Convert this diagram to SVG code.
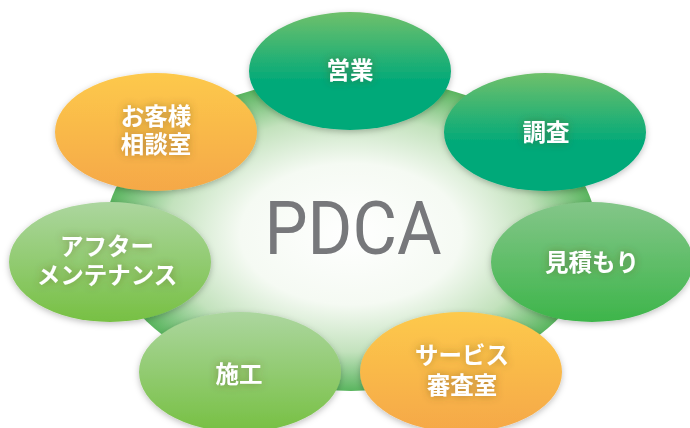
<svg xmlns="http://www.w3.org/2000/svg" width="690" height="428" viewBox="0 0 690 428">
<defs>
<radialGradient id="bg" cx="0.5" cy="0.5" r="0.5">
<stop offset="0" stop-color="#ffffff"/>
<stop offset="0.45" stop-color="#f5faf3"/>
<stop offset="0.75" stop-color="#c3e2bd"/>
<stop offset="1" stop-color="#5ab55f"/>
</radialGradient>
<linearGradient id="gDark" x1="0" y1="0" x2="0" y2="1">
<stop offset="0" stop-color="#6fc06b"/>
<stop offset="0.6" stop-color="#00a979"/>
<stop offset="1" stop-color="#00a979"/>
</linearGradient>
<linearGradient id="gMid" x1="0" y1="0" x2="0" y2="1">
<stop offset="0" stop-color="#84c689"/>
<stop offset="1" stop-color="#3db54a"/>
</linearGradient>
<linearGradient id="gLight" x1="0" y1="0" x2="0" y2="1">
<stop offset="0" stop-color="#acd69f"/>
<stop offset="1" stop-color="#77c043"/>
</linearGradient>
<linearGradient id="gOrange" x1="0" y1="0" x2="0" y2="1">
<stop offset="0" stop-color="#fdc94c"/>
<stop offset="1" stop-color="#f5a847"/>
</linearGradient>
<filter id="sh" x="-20%" y="-20%" width="140%" height="150%">
<feDropShadow dx="0" dy="2" stdDeviation="3" flood-color="#000" flood-opacity="0.25"/>
</filter>
<filter id="tsh" x="-30%" y="-50%" width="160%" height="200%">
<feGaussianBlur in="SourceAlpha" stdDeviation="4" result="b"/>
<feFlood flood-color="#5a4a20" flood-opacity="0.45"/>
<feComposite in2="b" operator="in" result="s"/>
<feMerge><feMergeNode in="s"/><feMergeNode in="SourceGraphic"/></feMerge>
</filter>
</defs>
<style>
.lbl{font-family:"Noto Sans CJK JP","Noto Sans",sans-serif;font-weight:bold;font-size:23.5px;fill:#ffffff;text-anchor:middle;filter:url(#tsh)}
.node ellipse{filter:url(#sh)}
</style>
<g id="center">
<ellipse cx="351" cy="234" rx="246" ry="157" fill="url(#bg)"/>
<text x="353" y="254" font-family="Roboto, 'Liberation Sans', sans-serif" font-size="74" fill="#77787b" text-anchor="middle" textLength="177" lengthAdjust="spacingAndGlyphs">PDCA</text>
</g>
<g id="connectors"></g>
<g id="n-eigyo" class="node">
<ellipse cx="350" cy="71" rx="101" ry="59" fill="url(#gDark)"/>
<text class="lbl" x="350" y="79">営業</text>
</g>
<g id="n-chosa" class="node">
<ellipse cx="545" cy="132" rx="101" ry="59" fill="url(#gDark)"/>
<text class="lbl" x="546" y="141">調査</text>
</g>
<g id="n-mitsumori" class="node">
<ellipse cx="592" cy="262" rx="101" ry="60" fill="url(#gMid)"/>
<text class="lbl" x="592" y="271">見積もり</text>
</g>
<g id="n-service" class="node">
<ellipse cx="461" cy="372" rx="101" ry="60" fill="url(#gOrange)"/>
<text class="lbl" x="462" y="364"><tspan x="462">サービス</tspan><tspan x="462" dy="30">審査室</tspan></text>
</g>
<g id="n-seko" class="node">
<ellipse cx="240" cy="372" rx="101" ry="60" fill="url(#gLight)"/>
<text class="lbl" x="239" y="383">施工</text>
</g>
<g id="n-after" class="node">
<ellipse cx="110" cy="262" rx="101" ry="60" fill="url(#gLight)"/>
<text class="lbl" x="107" y="255"><tspan x="107">アフター</tspan><tspan x="107" dy="29">メンテナンス</tspan></text>
</g>
<g id="n-soudan" class="node">
<ellipse cx="156" cy="132" rx="101" ry="59" fill="url(#gOrange)"/>
<text class="lbl" x="156" y="125"><tspan x="156">お客様</tspan><tspan x="156" dy="28">相談室</tspan></text>
</g>
</svg>
